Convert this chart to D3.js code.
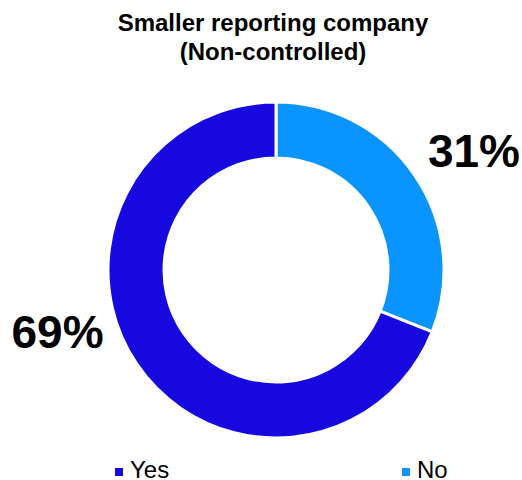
<!DOCTYPE html>
<html>
<head>
<meta charset="utf-8">
<script src="https://cdn.jsdelivr.net/npm/d3@7/dist/d3.min.js"></script>
<style>
  html, body { margin: 0; padding: 0; background: #fff; }
  svg { display: block; font-family: "Liberation Sans", Arial, sans-serif; }
</style>
</head>
<body>
<svg id="chart" width="522" height="480"></svg>
<script>
// Survey answers and their shares (%)
const categories = ["Yes", "No"];
const values = [69, 31];
const colors = ["#1608df", "#0a94ff"];
const titleLines = ["Smaller reporting company", "(Non-controlled)"];

const svg = d3.select("#chart");
const cx = 276, cy = 270;
const outerR = 168, innerR = 112;

// Title
svg.append("text")
  .attr("x", 273).attr("y", 31)
  .attr("text-anchor", "middle")
  .attr("font-weight", "bold")
  .attr("font-size", 24)
  .selectAll("tspan")
  .data(titleLines)
  .join("tspan")
  .attr("x", 273)
  .attr("dy", (d, i) => i === 0 ? 0 : 29)
  .text(d => d);

const data = categories.map((c, i) => ({ cat: c, value: values[i], color: colors[i] }));
const total = d3.sum(values);

// "No" slice starts at 12 o'clock, "Yes" follows clockwise
const pie = d3.pie().sort(null).value(d => d.value)
  .startAngle(0).endAngle(2 * Math.PI);
const arcs = pie(data.slice().reverse());

const arc = d3.arc().innerRadius(innerR).outerRadius(outerR);

const g = svg.append("g").attr("transform", `translate(${cx},${cy})`);
g.selectAll("path")
  .data(arcs)
  .join("path")
  .attr("d", arc)
  .attr("fill", d => d.data.color)
  .attr("stroke", "#fff")
  .attr("stroke-width", 3)
  .attr("stroke-linejoin", "miter");

// Percentage labels placed outside the ring
const labelOffset = { Yes: [-218.5, 78], No: [198, -103] };
g.selectAll("text.pct")
  .data(arcs)
  .join("text")
  .attr("class", "pct")
  .attr("x", d => labelOffset[d.data.cat][0])
  .attr("y", d => labelOffset[d.data.cat][1])
  .attr("text-anchor", "middle")
  .attr("font-weight", "bold")
  .attr("font-size", 46)
  .attr("fill", "#000")
  .text(d => Math.round(d.value / total * 100) + "%");

// Legend
const legendX = { Yes: 115, No: 402 };
const items = svg.append("g").selectAll("g")
  .data(data)
  .join("g")
  .attr("transform", d => `translate(${legendX[d.cat]},0)`);
items.append("rect")
  .attr("x", 0).attr("y", 468)
  .attr("width", 8).attr("height", 8)
  .attr("fill", d => d.color);
items.append("text")
  .attr("x", 15).attr("y", 478)
  .attr("font-size", 24)
  .attr("fill", "#000")
  .text(d => d.cat);
</script>
</body>
</html>
